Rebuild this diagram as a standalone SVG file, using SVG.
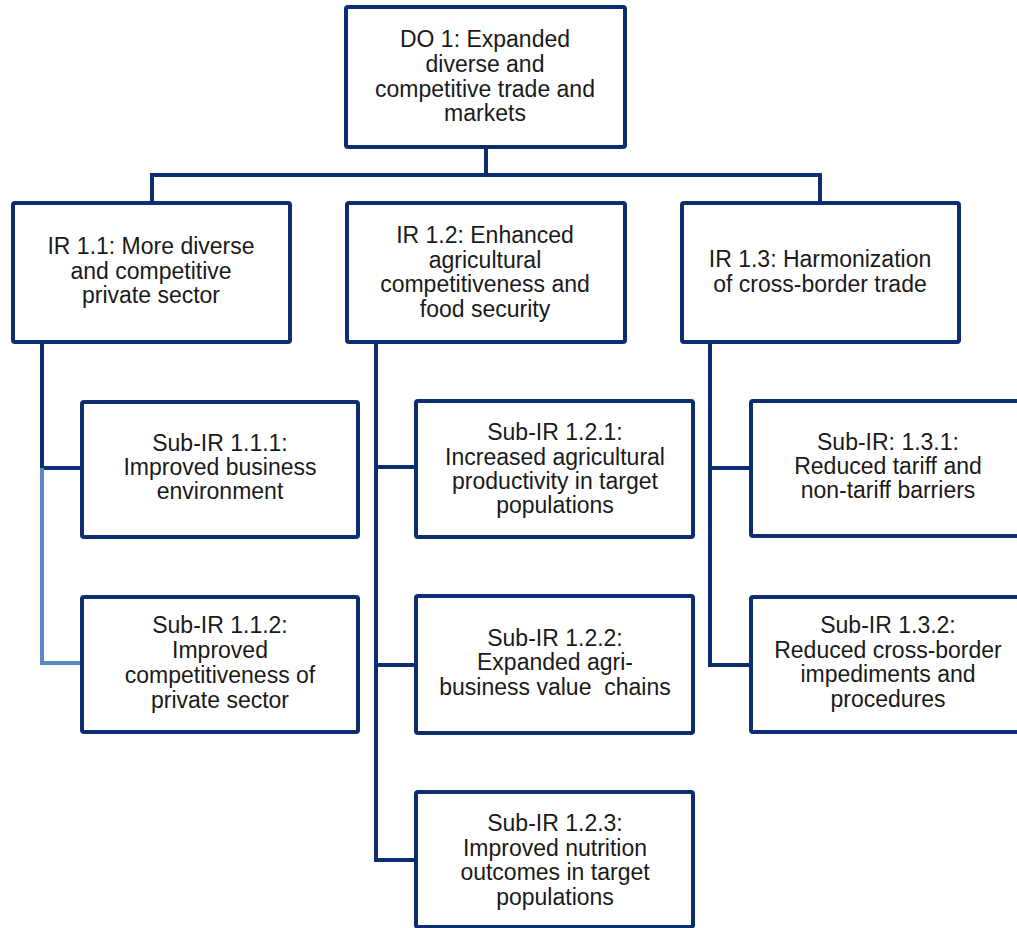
<svg xmlns="http://www.w3.org/2000/svg" width="1017" height="928" viewBox="0 0 1017 928">
<style>
.box{fill:#ffffff;stroke:#0c2d6f;stroke-width:4;}
.ln{fill:none;stroke:#0c2d6f;stroke-width:4;stroke-linecap:square;}
.lt{fill:none;stroke:#5b87c4;stroke-width:4;}
text{font-family:"Liberation Sans",Arial,sans-serif;font-size:23px;fill:#1a1a1a;text-anchor:middle;}
</style>
<rect width="1017" height="928" fill="#ffffff"/>
<g id="connectors">
<path class="ln" d="M486,147 V175 M152,175 H820 M152,175 V203 M820,175 V203"/>
<path class="ln" d="M42,342 V468 H82"/>
<path class="lt" d="M42,468 V663 H82"/>
<path class="ln" d="M376,342 V860 H416 M376,467 H416 M376,665 H416"/>
<path class="ln" d="M710,342 V665 H751 M710,468 H751"/>
</g>
<g id="do1">
<rect class="box" x="346" y="7" width="279" height="140" rx="2"/>
<text x="485" y="47">DO 1: Expanded</text>
<text x="485" y="72">diverse and</text>
<text x="485" y="97">competitive trade and</text>
<text x="485" y="121">markets</text>
</g>
<g id="ir11">
<rect class="box" x="13" y="203" width="277" height="139" rx="2"/>
<text x="151" y="254">IR 1.1: More diverse</text>
<text x="151" y="279">and competitive</text>
<text x="151" y="303">private sector</text>
</g>
<g id="ir12">
<rect class="box" x="347" y="203" width="278" height="139" rx="2"/>
<text x="485" y="243">IR 1.2: Enhanced</text>
<text x="485" y="268">agricultural</text>
<text x="485" y="292">competitiveness and</text>
<text x="485" y="317">food security</text>
</g>
<g id="ir13">
<rect class="box" x="682" y="203" width="277" height="139" rx="2"/>
<text x="820" y="267">IR 1.3: Harmonization</text>
<text x="820" y="292">of cross-border trade</text>
</g>
<g id="sub111">
<rect class="box" x="82" y="402" width="276" height="135" rx="2"/>
<text x="220" y="451">Sub-IR 1.1.1:</text>
<text x="220" y="475">Improved business</text>
<text x="220" y="499">environment</text>
</g>
<g id="sub112">
<rect class="box" x="82" y="597" width="276" height="135" rx="2"/>
<text x="220" y="633">Sub-IR 1.1.2:</text>
<text x="220" y="658">Improved</text>
<text x="220" y="683">competitiveness of</text>
<text x="220" y="708">private sector</text>
</g>
<g id="sub121">
<rect class="box" x="416" y="401" width="277" height="136" rx="2"/>
<text x="555" y="440">Sub-IR 1.2.1:</text>
<text x="555" y="465">Increased agricultural</text>
<text x="555" y="489">productivity in target</text>
<text x="555" y="513">populations</text>
</g>
<g id="sub122">
<rect class="box" x="416" y="596" width="277" height="137" rx="2"/>
<text x="555" y="646">Sub-IR 1.2.2:</text>
<text x="555" y="670">Expanded agri-</text>
<text x="555" y="695" xml:space="preserve">business value  chains</text>
</g>
<g id="sub123">
<rect class="box" x="416" y="792" width="277" height="135" rx="2"/>
<text x="555" y="831">Sub-IR 1.2.3:</text>
<text x="555" y="856">Improved nutrition</text>
<text x="555" y="880">outcomes in target</text>
<text x="555" y="905">populations</text>
</g>
<g id="sub131">
<rect class="box" x="751" y="401" width="276" height="135" rx="2"/>
<text x="888" y="450">Sub-IR: 1.3.1:</text>
<text x="888" y="474">Reduced tariff and</text>
<text x="888" y="498">non-tariff barriers</text>
</g>
<g id="sub132">
<rect class="box" x="751" y="597" width="276" height="135" rx="2"/>
<text x="888" y="633">Sub-IR 1.3.2:</text>
<text x="888" y="658">Reduced cross-border</text>
<text x="888" y="682">impediments and</text>
<text x="888" y="707">procedures</text>
</g>
</svg>
